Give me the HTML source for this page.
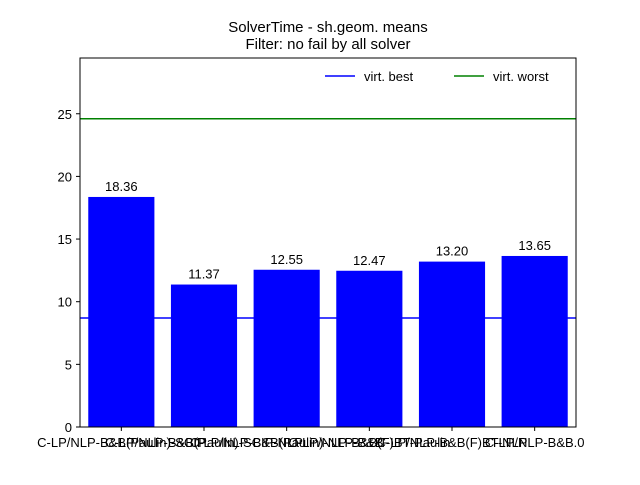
<!DOCTYPE html>
<html><head><meta charset="utf-8"><style>
body{margin:0;background:#fff;}
text{font-family:"Liberation Sans","DejaVu Sans",sans-serif;}
</style></head><body>
<svg id="chart" width="640" height="480" xmlns="http://www.w3.org/2000/svg">
<rect width="640" height="480" fill="#fff"/>
<text x="328" y="32" font-size="15" text-anchor="middle">SolverTime - sh.geom. means</text>
<text x="328" y="49" font-size="15" text-anchor="middle">Filter: no fail by all solver</text>
<g id="plot"></g>
</svg>
<script>
const categories=["C-LP/NLP-B&B(Paulin)-SCIP","C-LP/NLP-B&B(Paulin)-SCIP-NLP","C-LP/NLP-B&B(Paulin)-NLP-B&B","C-LP/NLP-B&B(F)BT-Paulin","C-LP/NLP-B&B(F)BT-NLP","C-LP/NLP-B&B.0"];
const values=[18.36,11.37,12.55,12.47,13.20,13.65];
const valueLabels=["18.36","11.37","12.55","12.47","13.20","13.65"];
const yTicks=[0,5,10,15,20,25];
const virtBest=8.7;
const virtWorst=24.6;
const yMax=29.45;
const L=80,R=576,T=58,B=427;
const NS="http://www.w3.org/2000/svg";
const g=document.getElementById('plot');
const y=v=>B-(v/yMax)*(B-T);
const step=(R-L)/categories.length;
const x=i=>L+step*(i+0.5);
function el(t,a){const e=document.createElementNS(NS,t);for(const k in a)e.setAttribute(k,a[k]);g.appendChild(e);return e;}
values.forEach((v,i)=>{
 const r=el('rect',{x:x(i)-step*0.4,y:y(v),width:step*0.8,height:B-y(v),fill:'#0000ff'});
 
 
 const t=el('text',{x:x(i),y:y(v)-6,'font-size':13,'text-anchor':'middle'});t.textContent=valueLabels[i];
 
 
 const tk=el('line',{x1:x(i),x2:x(i),y1:B,y2:B+4,stroke:'#000'});
 
 
 const xl=el('text',{x:x(i),y:B+20,'font-size':13,'text-anchor':'middle'});xl.textContent=categories[i];
 
 
});
yTicks.forEach(v=>{
 const tk=el('line',{x1:L-4,x2:L,y1:y(v),y2:y(v),stroke:'#000'});
 
 
 const t=el('text',{x:L-8,y:y(v)+5,'font-size':13,'text-anchor':'end'});t.textContent=v;
 
 
});
const lb=el('line',{x1:L,x2:R,y1:y(virtBest),y2:y(virtBest),stroke:'#0000ff','stroke-width':1.5});


const lw=el('line',{x1:L,x2:R,y1:y(virtWorst),y2:y(virtWorst),stroke:'#008000','stroke-width':1.5});


const fr=el('rect',{x:L,y:T,width:R-L,height:B-T,fill:'none',stroke:'#000'});


const legend=[["virt. best","#0000ff",325],["virt. worst","#008000",454]];
legend.forEach(([n,c,lx])=>{
 const l=el('line',{x1:lx,x2:lx+30,y1:76,y2:76,stroke:c,'stroke-width':1.5});
 
 
 const t=el('text',{x:lx+39,y:81,'font-size':13});t.textContent=n;
 
 
});
</script>
</body></html>
